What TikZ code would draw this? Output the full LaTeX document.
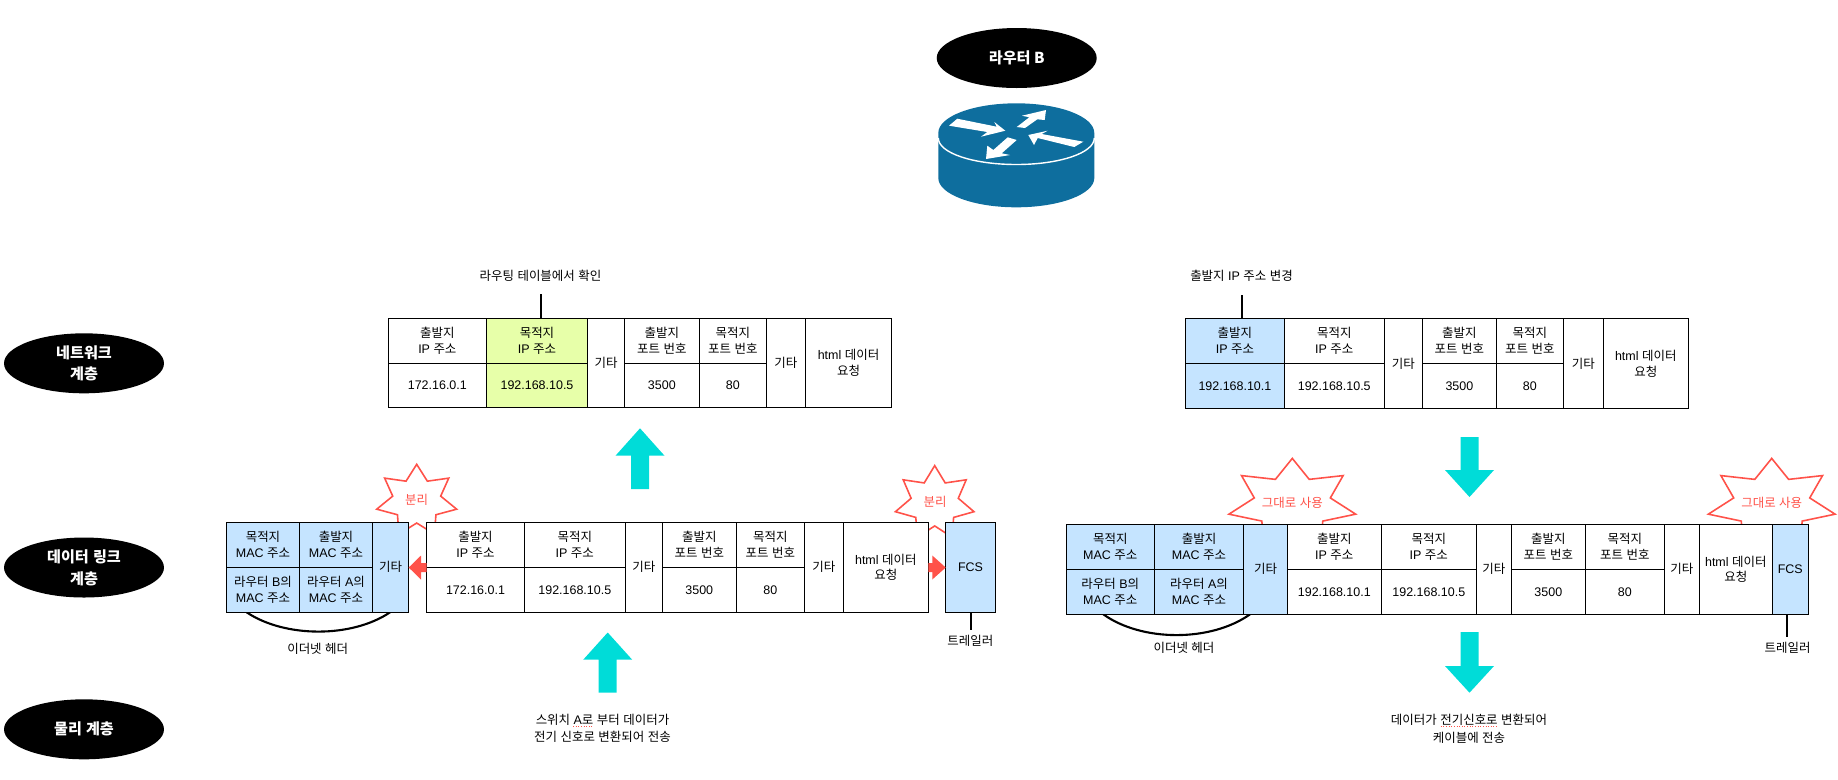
\documentclass[tikz,border=0pt]{standalone}
\usepackage{fontspec}
\setmainfont{Liberation Sans}
\newfontfamily\krfont{Noto Sans CJK KR}
% hangul syllables go to the korean font
\newXeTeXintercharclass\krclass
\newcount\krcode
\krcode="AC00
\loop
  \XeTeXcharclass\krcode=\krclass
\ifnum\krcode<"D7A3
  \advance\krcode by 1
\repeat
\XeTeXinterchartokenstate=1
\XeTeXinterchartoks 0 \krclass = {\krfont}
\XeTeXinterchartoks 4095 \krclass = {\krfont}
\XeTeXinterchartoks \krclass 0 = {\fontfamily{\rmdefault}\selectfont}
\XeTeXinterchartoks \krclass 4095 = {\fontfamily{\rmdefault}\selectfont}
\usetikzlibrary{shapes.geometric}
\definecolor{hdrblue}{HTML}{C5E4FF}
\definecolor{limefill}{HTML}{E7FFA9}
\definecolor{flowcyan}{HTML}{00DCD8}
\definecolor{burstred}{HTML}{FF5249}
\definecolor{routerblue}{HTML}{0E6E9E}
\tikzset{
  cell/.style={draw=black,fill=white,line width=0.65pt},
  celltext/.style={midway,align=center,inner sep=0pt,font=\fontsize{7.1}{9.1}\selectfont},
  plaintext/.style={align=center,inner sep=0pt,font=\fontsize{7.1}{9.8}\selectfont},
  layerlabel/.style={ellipse,fill=black,text=white,align=center,inner sep=0pt,
    minimum width=3.2cm,minimum height=1.2cm,font=\fontsize{8.6}{12.4}\bfseries\selectfont},
  burstline/.style={draw=burstred,fill=white,line width=0.9pt,line join=miter},
  bursttext/.style={text=burstred,inner sep=0pt,font=\fontsize{7.1}{9.1}\selectfont},
  leadline/.style={draw=black,line width=1.2pt}
}
% x center, y center, x radius, y radius
\newcommand{\burstshape}[4]{
  \draw[burstline] plot[samples at={0,...,13}]
    ({#1+#3*(0.8+0.2*cos(\x*180))*cos(90+\x*360/14)},{#2-#4*(0.8+0.2*cos(\x*180))*sin(90+\x*360/14)}) -- cycle;
}
\begin{document}
\begin{tikzpicture}[x=0.02cm,y=-0.02cm]
\useasboundingbox (0,0) rectangle (1838,779);
% layer labels
\node[layerlabel] (routerB) at (1016.7,58) {\XeTeXinterchartokenstate=0 \krfont 라우터 B};
\node[layerlabel] (netLayer) at (84,363.3) {네트워크\\계층};
\node[layerlabel] (linkLayer) at (84,567.5) {데이터 링크\\계층};
\node[layerlabel] (phyLayer) at (84,729.3) {물리 계층};
% router
\fill[routerblue] (938.3,133) -- (938.3,178)
  .. controls (938.3,194.2) and (973.2,207.3) .. (1016.3,207.3)
  .. controls (1059.4,207.3) and (1094.3,194.2) .. (1094.3,178) -- (1094.3,133)
  .. controls (1094.3,116.4) and (1059.4,103.3) .. (1016.3,103.3)
  .. controls (973.2,103.3) and (938.3,116.4) .. (938.3,133) -- cycle;
\draw[white,line width=0.8pt] (938.3,138)
  .. controls (938.3,153) and (973.2,164.5) .. (1016.3,164.5)
  .. controls (1059.4,164.5) and (1094.3,153) .. (1094.3,138);
\fill[white] (957.3,118.7) -- (996.7,126.7) -- (994.3,122) -- (1005.3,130.7) -- (981,136.7) -- (987.3,132) -- (949,125.7) -- cycle;
\fill[white] (1046,110) -- (1022,115.7) -- (1029.3,117.3) -- (1016.7,127) -- (1025,128) -- (1037.3,119.3) -- (1044.7,120) -- cycle;
\fill[white] (1028.3,135) -- (1047.7,130.7) -- (1041.7,134) -- (1083.3,141.7) -- (1074.3,147) -- (1037.7,138) -- (1034,145) -- cycle;
\fill[white] (986,159) -- (1010,155) -- (1001.7,153.3) -- (1016.7,140) -- (1007.7,137.3) -- (993.3,150) -- (987.3,145.7) -- cycle;
% bursts, behind the tables
\burstshape{416.7}{501}{41}{36.7}
\burstshape{934.7}{503.3}{40.3}{37.7}
\burstshape{1292.3}{504}{65}{45.6}
\burstshape{1771.7}{504}{65}{45.6}
\node[bursttext] (burstA) at (416.7,500) {분리};
\node[bursttext] (burstB) at (935,501.7) {분리};
\node[bursttext] (burstC) at (1292.3,502.7) {그대로 사용};
\node[bursttext] (burstD) at (1771.7,502.7) {그대로 사용};
% ethernet header arcs
\coordinate (ethA) at (246.7,612.3);
\coordinate (ethB) at (390,612.3);
\coordinate (ethC) at (1103.3,614.3);
\coordinate (ethD) at (1250,614.3);
\draw[leadline] (ethA) .. controls (285,638) and (352,638) .. (ethB);
\draw[leadline] (ethC) .. controls (1142,642) and (1211,642) .. (ethD);
% ip tables
\foreach \pre/\xa/\xb/\xc/\xd/\xe/\xf/\xg/\xh/\ya/\yb/\yc/\srcip/\dstip/\srcfill/\dstfill in {
  netL/388.3/486.4/587.6/624.5/699.2/766.4/805.3/891.7/318.7/363.3/407.5/172.16.0.1/192.168.10.5/white/limefill,
  netR/1185.5/1284.3/1384.2/1422.4/1496.4/1563.3/1603.2/1688.3/318.7/363.3/408.3/192.168.10.1/192.168.10.5/hdrblue/white,
  dlL/426.7/524.3/625.3/662.3/736.3/804.3/843.3/928.3/522.3/567.3/612.3/172.16.0.1/192.168.10.5/white/white,
  dlR/1287.3/1381.3/1476.3/1511.3/1585.3/1664.3/1699.3/1772.3/524.3/569.3/614.3/192.168.10.1/192.168.10.5/white/white}{
  \draw[cell,fill=\srcfill] (\xa,\ya) rectangle (\xb,\yb) node[celltext] (\pre srcname) {출발지\\IP 주소};
  \draw[cell,fill=\srcfill] (\xa,\yb) rectangle (\xb,\yc) node[celltext] (\pre srcval) {\srcip};
  \draw[cell,fill=\dstfill] (\xb,\ya) rectangle (\xc,\yb) node[celltext] (\pre dstname) {목적지\\IP 주소};
  \draw[cell,fill=\dstfill] (\xb,\yb) rectangle (\xc,\yc) node[celltext] (\pre dstval) {\dstip};
  \draw[cell] (\xc,\ya) rectangle (\xd,\yc) node[celltext] (\pre etcA) {기타};
  \draw[cell] (\xd,\ya) rectangle (\xe,\yb) node[celltext] (\pre sportname) {출발지\\포트 번호};
  \draw[cell] (\xd,\yb) rectangle (\xe,\yc) node[celltext] (\pre sportval) {3500};
  \draw[cell] (\xe,\ya) rectangle (\xf,\yb) node[celltext] (\pre dportname) {목적지\\포트 번호};
  \draw[cell] (\xe,\yb) rectangle (\xf,\yc) node[celltext] (\pre dportval) {80};
  \draw[cell] (\xf,\ya) rectangle (\xg,\yc) node[celltext] (\pre etcB) {기타};
  \draw[cell] (\xg,\ya) rectangle (\xh,\yc) node[celltext] (\pre html) {html 데이터\\요청};
}
% ethernet headers and trailers
\foreach \pre/\xa/\xb/\xc/\xd/\xe/\xf/\ya/\yb/\yc in {
  dlL/226.7/299.3/372.7/408.7/945.7/995.3/522.3/567.3/612.3,
  dlR/1066.3/1154.3/1243.7/1287.3/1772.3/1808.3/524.3/569.3/614.3}{
  \draw[cell,fill=hdrblue] (\xa,\ya) rectangle (\xb,\yb) node[celltext] (\pre dmac) {목적지\\MAC 주소};
  \draw[cell,fill=hdrblue] (\xa,\yb) rectangle (\xb,\yc) node[celltext] (\pre dmacval) {라우터 B의\\MAC 주소};
  \draw[cell,fill=hdrblue] (\xb,\ya) rectangle (\xc,\yb) node[celltext] (\pre smac) {출발지\\MAC 주소};
  \draw[cell,fill=hdrblue] (\xb,\yb) rectangle (\xc,\yc) node[celltext] (\pre smacval) {라우터 A의\\MAC 주소};
  \draw[cell,fill=hdrblue] (\xc,\ya) rectangle (\xd,\yc) node[celltext] (\pre etc) {기타};
  \draw[cell,fill=hdrblue] (\xe,\ya) rectangle (\xf,\yc) node[celltext] (\pre fcs) {FCS};
}
% block arrows, tip / head base / tail
\foreach \xc/\ytip/\ybase/\yend in {640/428.3/455.7/489, 607.7/632.5/659.7/692.7, 1469.5/497/470/437, 1469.5/692.7/666/632}
  \fill[flowcyan] (\xc,\ytip) -- (\xc+24.5,\ybase) -- (\xc+9,\ybase) -- (\xc+9,\yend)
    -- (\xc-9,\yend) -- (\xc-9,\ybase) -- (\xc-24.5,\ybase) -- cycle;
% split arrows
\foreach \xtip/\xbase/\xend in {408.7/421/426.7, 945.7/932.3/928.3}
  \fill[burstred] (\xtip,567.5) -- (\xbase,555.5) -- (\xbase,563) -- (\xend,563)
    -- (\xend,572) -- (\xbase,572) -- (\xbase,579.5) -- cycle;
% labels
\node[plaintext] (routeNote) at (540.5,275.7) {라우팅 테이블에서 확인};
\node[plaintext] (srcNote) at (1241.5,275.7) {출발지 IP 주소 변경};
\node[plaintext] (ethNoteA) at (317.7,649) {이더넷 헤더};
\node[plaintext] (ethNoteB) at (1184,648.3) {이더넷 헤더};
\node[plaintext] (trailA) at (970.3,641) {트레일러};
\node[plaintext] (trailB) at (1787.5,648) {트레일러};
\node[plaintext] (phyNoteA) at (602.5,728.7) {스위치 A로 부터 데이터가\\전기 신호로 변환되어 전송};
\node[plaintext] (phyNoteB) at (1469,728.7) {데이터가 전기신호로 변환되어\\케이블에 전송};
% lead lines
\coordinate (routeEnd) at (540.8,294);
\coordinate (srcEnd) at (1242,295);
\coordinate (trailEndA) at (971,630);
\coordinate (trailEndB) at (1787,637.3);
\draw[leadline] (routeEnd) -- (540.8,318.7);
\draw[leadline] (srcEnd) -- (1242,318.7);
\draw[leadline] (971,612.3) -- (trailEndA);
\draw[leadline] (1787,614.3) -- (trailEndB);
% spell check marks
\draw[burstred,densely dotted,line width=0.5pt] (573,726.5) -- (591.7,726.5);
\draw[burstred,densely dotted,line width=0.5pt] (1440.7,726.2) -- (1496.7,726.2);
\end{tikzpicture}
\end{document}
